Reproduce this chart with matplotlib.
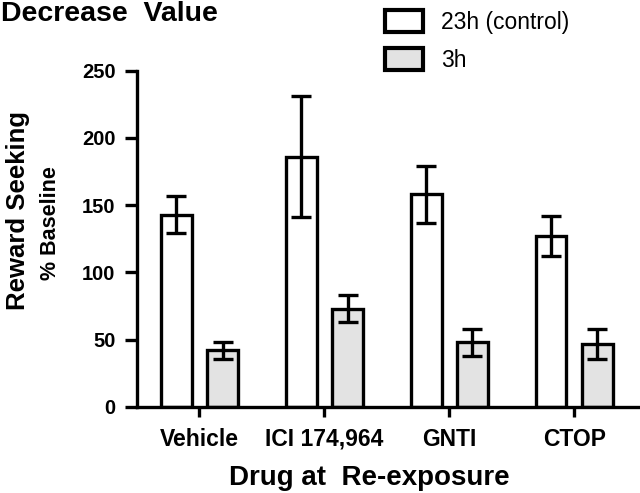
import matplotlib
matplotlib.use("Agg")
import matplotlib.pyplot as plt
import numpy as np

plt.rcParams['font.family'] = ['Liberation Sans', 'DejaVu Sans']

categories = ["Vehicle", "ICI 174,964", "GNTI", "CTOP"]
control_23h = [143, 186, 158, 127]
control_23h_err = [14, 45, 21, 15]
short_3h = [42, 73, 48, 47]
short_3h_err = [6, 10, 10, 11]
yticks = [0, 50, 100, 150, 200, 250]

fig = plt.figure(figsize=(6.4, 4.93), dpi=100)
ax = fig.add_axes([137/640, 1-407/493, (638-137)/640, (407-70.5)/493])

x = np.arange(len(categories))
off = 0.185
w = 0.245
lw = 2.4

ax.bar(x - off, control_23h, w, color='white', edgecolor='black', linewidth=lw, zorder=2, label='23h (control)')
ax.bar(x + off, short_3h, w, color='#e3e3e3', edgecolor='black', linewidth=lw, zorder=2, label='3h')
ax.errorbar(x - off, control_23h, yerr=control_23h_err, fmt='none', ecolor='black',
            elinewidth=lw, capsize=7.5, capthick=lw, zorder=3)
ax.errorbar(x + off, short_3h, yerr=short_3h_err, fmt='none', ecolor='black',
            elinewidth=lw, capsize=7.5, capthick=lw, zorder=3)

ax.set_xlim(-0.5, 3.51)
ax.set_ylim(0, 250)
ax.set_yticks(yticks)
ax.set_xticks(x)
ax.set_xticklabels(categories)
for s in ['top', 'right']:
    ax.spines[s].set_visible(False)
for s in ['left', 'bottom']:
    ax.spines[s].set_linewidth(lw)
ax.tick_params(axis='both', direction='out', width=lw)
ax.tick_params(axis='y', length=8.5, pad=7, labelsize=14.5)
ax.tick_params(axis='x', length=7.5, pad=7.5, labelsize=16.5)
for lab in ax.get_xticklabels() + ax.get_yticklabels():
    lab.set_fontweight('bold')

fig.text(369/640, 1-485/493, "Drug at  Re-exposure", fontsize=20, fontweight='bold',
         ha='center', va='baseline')

fig.text(18/640, 1-210/493, "Reward Seeking", rotation=90, fontsize=18.5, fontweight='bold',
         ha='center', va='center')
fig.text(50/640, 1-223.5/493, "% Baseline", rotation=90, fontsize=15.5, fontweight='bold',
         ha='center', va='center')
fig.text(0.002, 1-1/493, "Decrease  Value", fontsize=20.5, fontweight='bold', ha='left', va='top')

leg = fig.legend(loc='upper left', bbox_to_anchor=(385/640, 1-10/493), frameon=False,
                 fontsize=16.5, handlelength=1.65, handleheight=1.13, handletextpad=0.8,
                 labelspacing=0.6, borderpad=0, borderaxespad=0)
for h in leg.legend_handles:
    h.set_linewidth(3)

fig.savefig("out.png", dpi=100)
